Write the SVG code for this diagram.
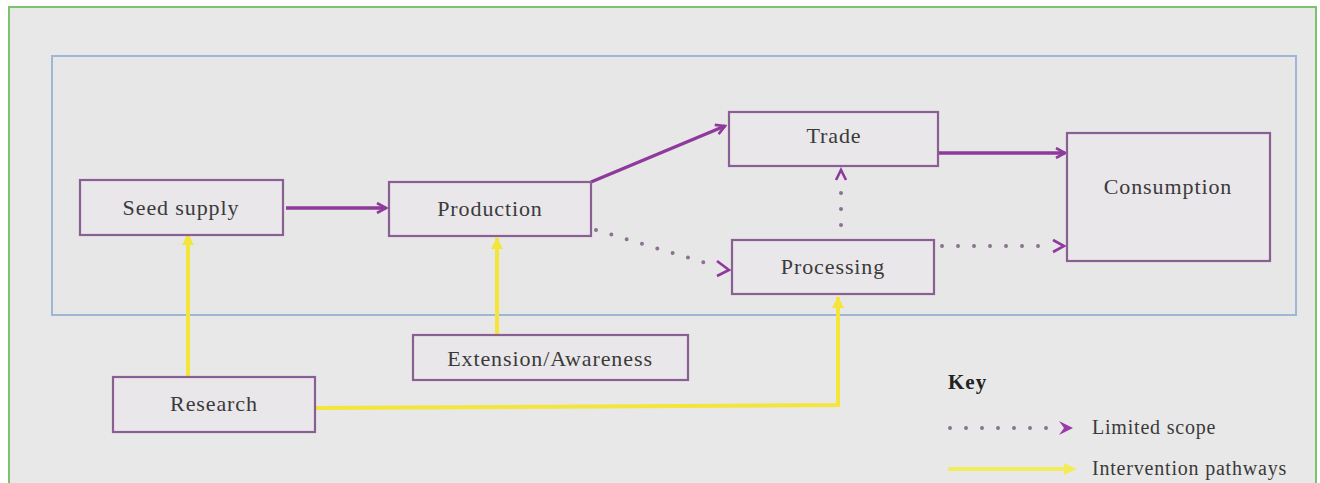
<svg xmlns="http://www.w3.org/2000/svg" width="1320" height="483" viewBox="0 0 1320 483">
<style>
.box{fill:#e9e7ea;stroke:#8a5f93;stroke-width:2.2}
.lbl{font-family:"Liberation Serif","Times New Roman",serif;font-size:22px;letter-spacing:0.9px;fill:#3a3a3a;text-anchor:middle}
.key{font-family:"Liberation Serif","Times New Roman",serif;font-size:20px;letter-spacing:0.8px;fill:#3a3a3a}
.solid{fill:none;stroke:#8e3a9c;stroke-width:3.5}
.dot{fill:none;stroke:#8a7290;stroke-width:4;stroke-linecap:round;stroke-dasharray:0 16}
.yel{fill:none;stroke:#f3e53a;stroke-width:4}
</style>
<defs>
<marker id="chev" viewBox="0 0 12 12" refX="10" refY="6" markerWidth="12" markerHeight="12" markerUnits="userSpaceOnUse" orient="auto">
<polyline points="1,1 10,6 1,11" fill="none" stroke="#8e3a9c" stroke-width="2.6"/>
</marker>
<marker id="ytri" viewBox="0 0 14 14" refX="12" refY="7" markerWidth="14" markerHeight="14" markerUnits="userSpaceOnUse" orient="auto">
<path d="M1,1 L13,7 L1,13 Z" fill="#f3e53a"/>
</marker>
</defs>
<rect x="0" y="0" width="1320" height="483" fill="#ffffff"/>
<rect x="9" y="7" width="1307" height="478" fill="#e8e8e8" stroke="#7cc46c" stroke-width="2"/>
<rect x="52" y="56" width="1244" height="259" fill="#e7e7e7" stroke="#9fb6d6" stroke-width="2"/>

<g id="connectors">
<line class="solid" x1="286" y1="208" x2="386" y2="208" marker-end="url(#chev)"/>
<line class="solid" x1="591" y1="182" x2="725" y2="126" marker-end="url(#chev)"/>
<line class="solid" x1="938" y1="153" x2="1065" y2="153" marker-end="url(#chev)"/>
<line class="dot" x1="596" y1="230" x2="716" y2="266"/>
<polyline points="717,261 729,270 717,276" fill="none" stroke="#8e3a9c" stroke-width="2.6"/>
<line class="dot" x1="841" y1="225" x2="841" y2="185"/>
<polyline points="836,180 841,170 846,180" fill="none" stroke="#8e3a9c" stroke-width="2.6"/>
<line class="dot" x1="942" y1="246" x2="1054" y2="246"/>
<polyline points="1053,240 1064,246 1053,252" fill="none" stroke="#8e3a9c" stroke-width="2.6"/>
<line class="yel" x1="188" y1="376" x2="188" y2="234" marker-end="url(#ytri)"/>
<line class="yel" x1="497" y1="335" x2="497" y2="238" marker-end="url(#ytri)"/>
<polyline class="yel" points="316,408 838,405 838,297" marker-end="url(#ytri)"/>
</g>

<g id="seed-supply"><rect class="box" x="80" y="180" width="203" height="55"/><text class="lbl" x="181" y="215">Seed supply</text></g>
<g id="production"><rect class="box" x="389" y="182" width="202" height="54"/><text class="lbl" x="490" y="216">Production</text></g>
<g id="trade"><rect class="box" x="729" y="112" width="209" height="54"/><text class="lbl" x="834" y="143">Trade</text></g>
<g id="processing"><rect class="box" x="732" y="240" width="202" height="54"/><text class="lbl" x="833" y="274">Processing</text></g>
<g id="consumption"><rect class="box" x="1067" y="133" width="203" height="128"/><text class="lbl" x="1168" y="194">Consumption</text></g>
<g id="extension-awareness"><rect class="box" x="413" y="335" width="275" height="45"/><text class="lbl" x="550" y="366">Extension/Awareness</text></g>
<g id="research"><rect class="box" x="113" y="377" width="202" height="55"/><text class="lbl" x="214" y="411">Research</text></g>

<g id="key">
<text x="948" y="389" font-family="Liberation Serif,serif" font-size="21" letter-spacing="1" font-weight="bold" fill="#222">Key</text>
<line class="dot" x1="950" y1="428" x2="1052" y2="428"/>
<path d="M1059,421 L1073,428 L1059,435 L1064,428 Z" fill="#9a3aa8"/>
<text class="key" x="1092" y="434">Limited scope</text>
<line x1="948" y1="469" x2="1068" y2="469" stroke="#f3ec5a" stroke-width="4"/>
<path d="M1064,463 L1077,469 L1064,475 Z" fill="#f3ec5a"/>
<text class="key" x="1092" y="475">Intervention pathways</text>
</g>
</svg>
